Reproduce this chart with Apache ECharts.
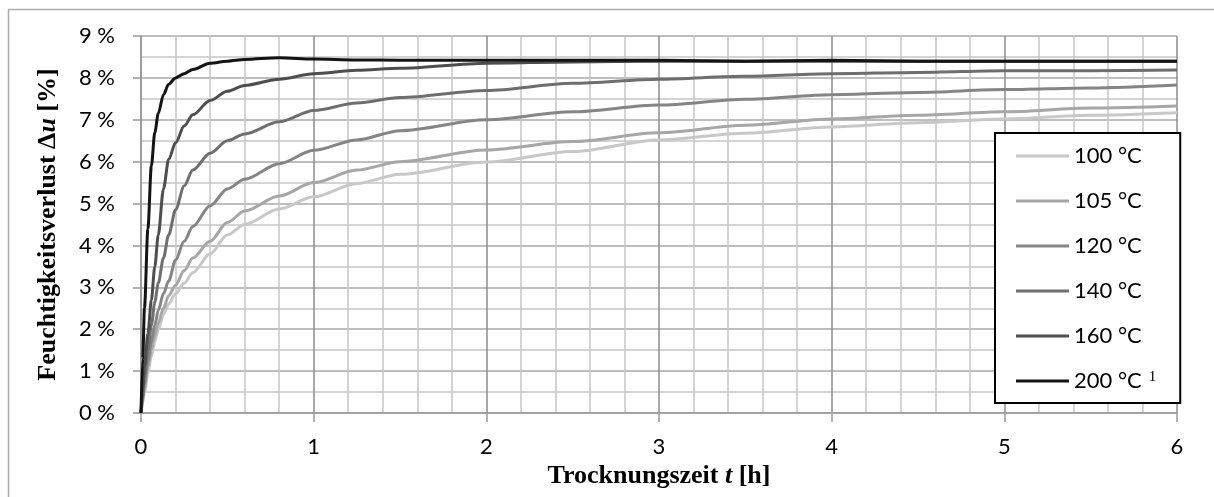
<!DOCTYPE html>
<html>
<head>
<meta charset="utf-8">
<script src="https://cdn.jsdelivr.net/npm/echarts@6/dist/echarts.min.js"></script>
<style>
  html, body { margin: 0; padding: 0; background: #fff; }
  #main { width: 1214px; height: 497px; }
</style>
</head>
<body>
<div id="main"></div>
<script>
// Trocknungszeit in h
const times = [0, 0.01, 0.02, 0.04, 0.06, 0.08, 0.1, 0.13, 0.16, 0.2, 0.25, 0.3, 0.4, 0.5, 0.6, 0.8,
  1.0, 1.25, 1.5, 2, 2.5, 3, 3.5, 4, 4.5, 5, 5.5, 6];

// Feuchtigkeitsverlust in %
const u100 = [0, 0.25, 0.5, 0.95, 1.35, 1.7, 2.0, 2.35, 2.6, 2.85, 3.1, 3.35, 3.8, 4.25, 4.5, 4.87,
  5.16, 5.48, 5.7, 5.99, 6.24, 6.52, 6.68, 6.83, 6.93, 7.02, 7.11, 7.17];
const u105 = [0, 0.3, 0.6, 1.1, 1.5, 1.85, 2.15, 2.5, 2.8, 3.05, 3.4, 3.7, 4.1, 4.55, 4.82, 5.18,
  5.5, 5.8, 6.0, 6.28, 6.48, 6.69, 6.87, 7.02, 7.11, 7.19, 7.28, 7.33];
const u120 = [0, 0.35, 0.7, 1.25, 1.7, 2.1, 2.45, 2.85, 3.15, 3.65, 4.1, 4.45, 4.95, 5.35, 5.58, 5.95,
  6.27, 6.52, 6.74, 7.0, 7.19, 7.35, 7.49, 7.6, 7.65, 7.72, 7.76, 7.83];
const u140 = [0, 0.45, 0.9, 1.5, 2.1, 2.65, 3.1, 3.7, 4.25, 4.85, 5.42, 5.8, 6.2, 6.5, 6.66, 6.95,
  7.22, 7.4, 7.53, 7.7, 7.87, 7.97, 8.04, 8.1, 8.13, 8.17, 8.17, 8.19];
const u160 = [0, 0.6, 1.1, 1.9, 2.7, 3.5, 4.25, 5.35, 6.05, 6.45, 6.85, 7.12, 7.46, 7.68, 7.82, 7.97,
  8.1, 8.18, 8.23, 8.35, 8.38, 8.4, 8.4, 8.4, 8.4, 8.4, 8.4, 8.4];
const u200 = [0, 1.3, 2.5, 4.4, 5.9, 6.7, 7.15, 7.6, 7.85, 8.0, 8.1, 8.2, 8.35, 8.4, 8.44, 8.48,
  8.45, 8.43, 8.42, 8.42, 8.42, 8.42, 8.4, 8.42, 8.4, 8.4, 8.4, 8.4];

const names = ['100 °C', '105 °C', '120 °C', '140 °C', '160 °C', '200 °C'];
const values = [u100, u105, u120, u140, u160, u200];
const colors = ['#c8c8c8', '#a6a6a6', '#858585', '#6e6e6e', '#4e4e4e', '#141414'];

let myChart = echarts.init(document.getElementById('main'));

let series = names.map((name, i) => ({
  name: name,
  type: 'line',
  symbol: 'none',
  smooth: 0.3,
  smoothMonotone: 'x',
  data: times.map((t, k) => [t, values[i][k]]),
  lineStyle: { color: colors[i], width: 3 },
  itemStyle: { color: colors[i] }
}));

let titleFont = {
  fontFamily: 'Liberation Serif',
  fontWeight: 'bold',
  fontSize: 26,
  color: '#000',
  rich: {
    i: { fontFamily: 'Liberation Serif', fontWeight: 'bold', fontStyle: 'italic', fontSize: 26, color: '#000' }
  }
};

let option = {
  animation: false,
  backgroundColor: '#fff',
  graphic: [{
    type: 'rect',
    shape: { x: 8.5, y: 9.5, width: 1230, height: 520 },
    style: { fill: 'none', stroke: '#aaaaaa', lineWidth: 1.5 },
    silent: true,
    z: -10
  }],
  grid: { left: 141, top: 36, right: 37, bottom: 84 },
  legend: {
    orient: 'vertical',
    left: 995,
    top: 133,
    data: names,
    icon: 'rect',
    backgroundColor: '#fff',
    borderColor: '#000',
    borderWidth: 2,
    padding: [12, 24, 11, 21],
    itemWidth: 53,
    itemHeight: 3,
    itemGap: 23,
    formatter: function (name) {
      return name === '200 °C' ? name + '{sup|1}' : name;
    },
    textStyle: {
      fontFamily: 'Lato',
      fontSize: 22,
      lineHeight: 22,
      color: '#000',
      rich: {
        sup: { fontFamily: 'Liberation Serif', fontSize: 15, verticalAlign: 'top', padding: [0, 0, 14, 7] }
      }
    }
  },
  xAxis: {
    type: 'value',
    min: 0,
    max: 6,
    interval: 1,
    name: 'Trocknungszeit {i|t} [h]',
    nameLocation: 'middle',
    nameGap: 45,
    nameTextStyle: titleFont,
    axisLine: { lineStyle: { color: '#999', width: 1.5 } },
    axisTick: { show: true, length: 9, lineStyle: { color: '#999', width: 1.5 } },
    axisLabel: { fontFamily: 'Lato', fontSize: 22, color: '#000', margin: 23 },
    splitLine: { show: true, lineStyle: { color: '#8c8c8c', width: 1.5 } },
    minorTick: { show: false, splitNumber: 5 },
    minorSplitLine: { show: true, lineStyle: { color: '#c6c6c6', width: 1.5 } }
  },
  yAxis: {
    type: 'value',
    min: 0,
    max: 9,
    interval: 1,
    name: 'Feuchtigkeitsverlust Δ{i|u} [%]',
    nameLocation: 'middle',
    nameGap: 80,
    nameTextStyle: titleFont,
    axisLine: { show: true, lineStyle: { color: '#999', width: 1.5 } },
    axisTick: { show: true, length: 8, lineStyle: { color: '#999', width: 1.5 } },
    axisLabel: { fontFamily: 'Lato', fontSize: 22, color: '#000', margin: 26, formatter: '{value} %' },
    splitLine: { show: true, lineStyle: { color: '#a8a8a8', width: 1.5 } },
    minorTick: { show: false, splitNumber: 2 },
    minorSplitLine: { show: true, lineStyle: { color: '#c6c6c6', width: 1.5 } }
  },
  series: series
};

myChart.setOption(option);
</script>
</body>
</html>
